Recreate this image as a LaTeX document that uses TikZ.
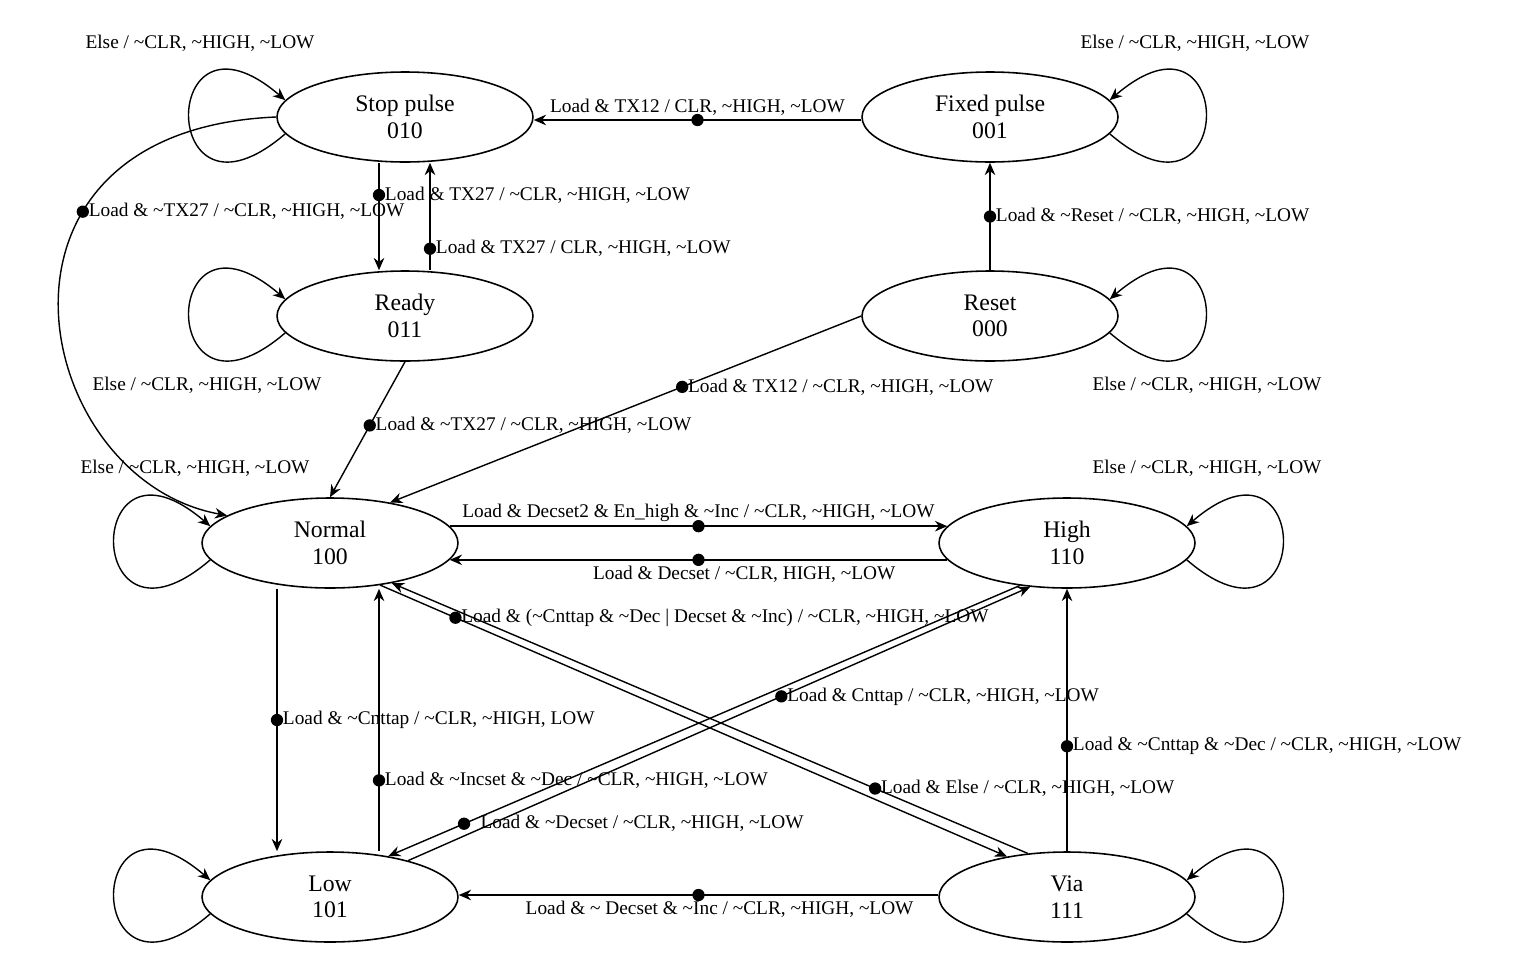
\documentclass[tikz,border=0pt]{standalone}
\usepackage{fontspec}
\setmainfont{Liberation Serif}
\usetikzlibrary{shapes.geometric,calc,arrows.meta}
\newcommand\tld{\textasciitilde}
\begin{document}
\begin{tikzpicture}[x=0.02cm,y=-0.02cm,
  st/.style={ellipse,draw,line width=0.9pt,minimum width=5.12cm,minimum height=1.8cm,inner sep=0pt,align=center,font=\fontsize{13.5}{15}\selectfont},
  e/.style={draw,line width=0.8pt,-{Stealth[length=7pt,width=6pt]}},
  dot/.style={circle,fill,inner sep=0pt,minimum size=7pt},
  lb/.style={font=\fontsize{11}{12}\selectfont,inner sep=1pt},
  lr/.style={lb,anchor=west,xshift=2pt},
  ll/.style={out=0,in=0},
  lpL/.style={e,to path={.. controls +(-128,110) and +(-128,-110) .. (\tikztotarget)}},
  lpR/.style={e,to path={.. controls +(128,110) and +(128,-110) .. (\tikztotarget)}}]
\useasboundingbox (0,0) rectangle (1521,954);
\node[st] (sp) at (405,117) {Stop pulse\\010};
\node[st] (fp) at (990,117) {Fixed pulse\\001};
\node[st] (rd) at (405,316) {Ready\\011};
\node[st] (rs) at (990,316) {Reset\\000};
\node[st] (nm) at (330,543) {Normal\\100};
\node[st] (hg) at (1067,543) {High\\110};
\node[st] (lw) at (330,897) {Low\\101};
\node[st] (va) at (1067,897) {Via\\111};
% self loops
\draw[lpL] (sp.188) to node[dot,pos=0.82] (d1) {} (sp.172);
\node[lb] (l1) at (200,43) {Else / \tld CLR, \tld HIGH, \tld LOW};
\draw[lpR] (fp.352) to node[dot,pos=0.82] (d2) {} (fp.8);
\node[lb] (l2) at (1195,43) {Else / \tld CLR, \tld HIGH, \tld LOW};
\draw[lpL] (rd.188) to node[dot,pos=0.2] (d3) {} (rd.172);
\node[lb] (l3) at (207,385) {Else / \tld CLR, \tld HIGH, \tld LOW};
\draw[lpR] (rs.352) to node[dot,pos=0.2] (d4) {} (rs.8);
\node[lb] (l4) at (1207,385) {Else / \tld CLR, \tld HIGH, \tld LOW};
\draw[lpL] (nm.188) to node[dot,pos=0.82] (d5) {} (nm.172);
\node[lb] (l5) at (195,468) {Else / \tld CLR, \tld HIGH, \tld LOW};
\draw[lpR] (hg.352) to node[dot,pos=0.82] (d6) {} (hg.8);
\node[lb] (l6) at (1207,468) {Else / \tld CLR, \tld HIGH, \tld LOW};
\draw[lpL] (lw.188) to node[dot,pos=0.2] (d7) {} (lw.172);
\draw[lpR] (va.352) to node[dot,pos=0.2] (d8) {} (va.8);
% edges
\draw[e] ($(fp.west)+(0,3)$) -- node[dot] (d9) {} node[lb,above=1pt] {Load \& TX12 / CLR, \tld HIGH, \tld LOW} ($(sp.east)+(0,3)$);
\draw[e] ($(sp.south)+(-26,0)$) -- node[dot,pos=0.3] (d10) {} node[lr,pos=0.3] {Load \& TX27 / \tld CLR, \tld HIGH, \tld LOW} ($(rd.north)+(-26,0)$);
\draw[e] ($(rd.north)+(25,0)$) -- node[dot,pos=0.2] (d11) {} node[lr,pos=0.2] {Load \& TX27 / CLR, \tld HIGH, \tld LOW} ($(sp.south)+(25,0)$);
\draw[e] (sp.west) .. controls (-40,130) and (30,480) .. node[dot,pos=0.32] (d12) {} node[lr,pos=0.32] {Load \& \tld TX27 / \tld CLR, \tld HIGH, \tld LOW} (nm.165);
\draw[e] (rs.north) -- node[dot,pos=0.5] (d13) {} node[lr,pos=0.5] {Load \& \tld Reset / \tld CLR, \tld HIGH, \tld LOW} (fp.south);
\draw[e] (rs.west) -- node[dot,pos=0.38] (d14) {} node[lr,pos=0.38] {Load \& TX12 / \tld CLR, \tld HIGH, \tld LOW} (nm.34);
\draw[e] (rd.south) -- node[dot,pos=0.47] (d15) {} node[lr,pos=0.47] {Load \& \tld TX27 / \tld CLR, \tld HIGH, \tld LOW} (nm.north);
\draw[e] (nm.8) -- node[dot] (d16) {} node[lb,above=1pt] {Load \& Decset2 \& En\_high \& \tld Inc / \tld CLR, \tld HIGH, \tld LOW} (hg.172);
\draw[e] (hg.188) -- node[dot] (d17) {} node[lb,below=2pt,xshift=26] {Load \& Decset / \tld CLR, HIGH, \tld LOW} (nm.-8);
\draw[e] (nm.-40) -- node[dot,pos=0.12] (d18) {} node[lr,pos=0.12] {Load \& (\tld Cnttap \& \tld Dec \textbar{} Decset \& \tld Inc) / \tld CLR, \tld HIGH, \tld LOW} (va.146);
\draw[e] (va.132) -- node[dot,pos=0.24] (d19) {} node[lr,pos=0.24] {Load \& Else / \tld CLR, \tld HIGH, \tld LOW} (nm.-33);
\draw[e] (hg.-138) -- node[dot,pos=0.88] (d20) {} node[lr,pos=0.88,xshift=6] {Load \& \tld Decset / \tld CLR, \tld HIGH, \tld LOW} (lw.35);
\draw[e] (lw.25) -- node[dot,pos=0.6] (d21) {} node[lr,pos=0.6] {Load \& Cnttap / \tld CLR, \tld HIGH, \tld LOW} (hg.-130);
\draw[e] ($(nm.south)+(-53,0)$) -- node[dot] (d22) {} node[lr] {Load \& \tld Cnttap / \tld CLR, \tld HIGH, LOW} ($(lw.north)+(-53,0)$);
\draw[e] ($(lw.north)+(49,0)$) -- node[dot,pos=0.27] (d23) {} node[lr,pos=0.27] {Load \& \tld Incset \& \tld Dec / \tld CLR, \tld HIGH, \tld LOW} ($(nm.south)+(49,0)$);
\draw[e] ($(va.west)+(0,-2)$) -- node[dot] (d24) {} node[lb,below=2pt,xshift=12] {Load \& \tld{} Decset \& \tld Inc / \tld CLR, \tld HIGH, \tld LOW} ($(lw.east)+(0,-2)$);
\draw[e] (va.north) -- node[dot,pos=0.4] (d25) {} node[lr,pos=0.4] {Load \& \tld Cnttap \& \tld Dec / \tld CLR, \tld HIGH, \tld LOW} (hg.south);
\end{tikzpicture}
\end{document}
